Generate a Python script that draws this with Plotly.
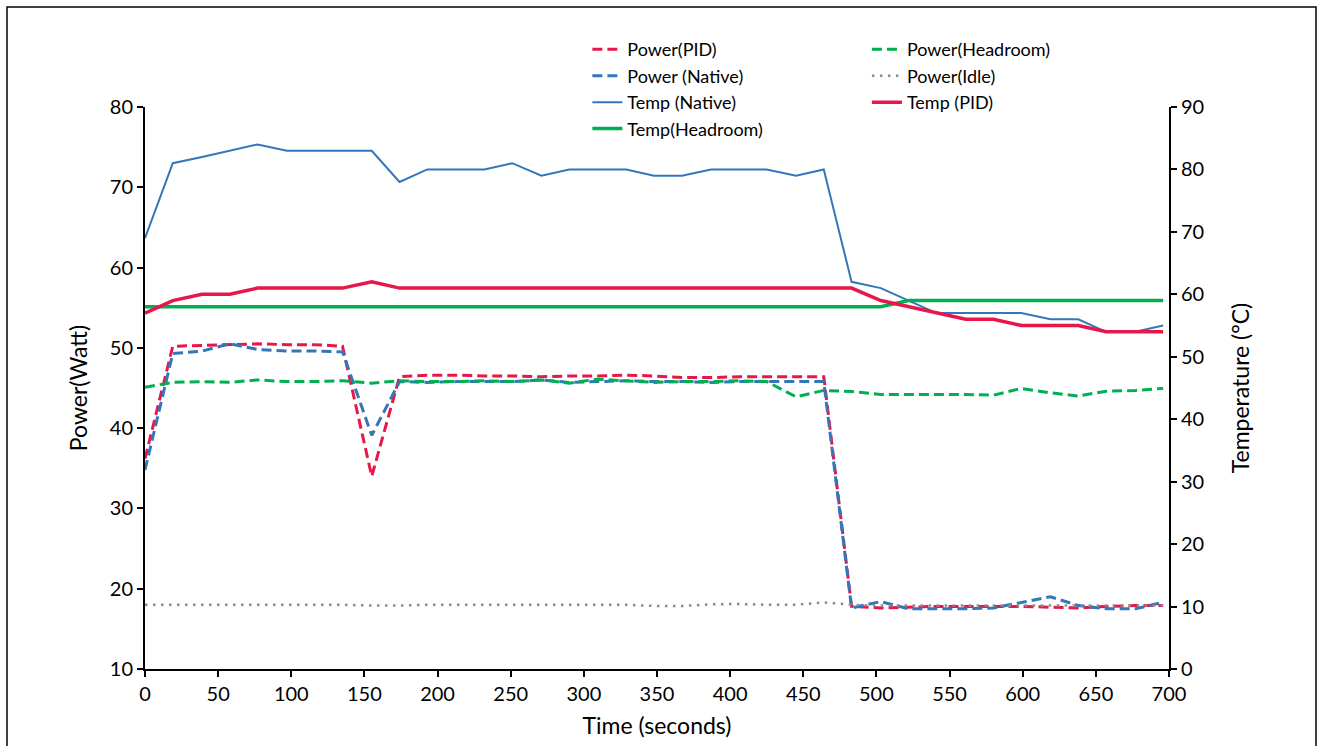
import plotly.graph_objects as go

time_s = [0, 19, 39, 58, 77, 97, 116, 135, 155, 174, 193, 213, 232, 251, 271, 290, 309, 329,
          348, 367, 387, 406, 425, 445, 464, 483, 503, 522, 541, 561, 580, 599, 619, 638, 657, 677, 696]

power_pid = [36.2, 50.2, 50.3, 50.4, 50.5, 50.4, 50.4, 50.2, 34.0,
             46.4, 46.6, 46.6, 46.5, 46.5, 46.4, 46.5, 46.5, 46.6, 46.5, 46.3, 46.3, 46.4, 46.4, 46.4, 46.4,
             17.8, 17.6, 17.7, 17.8, 17.8, 17.8, 17.8, 17.7, 17.6, 17.8, 17.9, 17.9]
power_native = [34.8, 49.3, 49.6, 50.5, 49.8, 49.6, 49.6, 49.5, 39.1,
                45.8, 45.7, 45.8, 45.8, 45.8, 46.0, 45.7, 45.8, 45.9, 45.8, 45.8, 45.7, 45.8, 45.8, 45.8, 45.8,
                17.6, 18.4, 17.5, 17.5, 17.5, 17.6, 18.3, 19.0, 17.9, 17.5, 17.5, 18.3]
power_headroom = [45.1, 45.7, 45.8, 45.7, 46.0, 45.8, 45.8, 45.9, 45.6,
                  45.9, 45.8, 45.8, 45.9, 45.8, 46.0, 45.6, 46.1, 45.9, 45.7, 45.8, 45.8, 45.9, 45.8,
                  43.9, 44.7, 44.55, 44.2, 44.2, 44.2, 44.2, 44.1, 44.95, 44.4, 44.0, 44.6, 44.7, 44.95]
power_idle = [18.0, 18.0, 18.0, 18.0, 18.0, 18.0, 18.0, 18.0, 17.9, 17.9,
              18.0, 18.0, 18.0, 18.0, 18.0, 18.0, 18.0, 18.0, 17.85, 17.85,
              18.05, 18.1, 18.0, 18.0, 18.3, 18.0,
              17.9, 17.9, 17.9, 17.9, 17.9, 17.9, 17.9, 17.9, 17.9, 17.9, 17.9]
temp_native = [69, 81, 82, 83, 84, 83, 83, 83, 83, 78, 80, 80, 80, 81, 79, 80, 80, 80,
               79, 79, 80, 80, 80, 79, 80, 62, 61, 59, 57, 57, 57, 57, 56, 56, 54, 54, 55]
temp_pid = [57, 59, 60, 60, 61, 61, 61, 61, 62, 61, 61, 61, 61, 61, 61, 61, 61, 61,
            61, 61, 61, 61, 61, 61, 61, 61, 59, 58, 57, 56, 56, 55, 55, 55, 54, 54, 54]
temp_headroom = [58] * 27 + [59] * 10

RED = "#E8174A"
BLUE = "#3476BA"
GREEN = "#00B050"
GRAY = "#8C8C8C"
FONT = "Lato"

fig = go.Figure()

fig.add_trace(go.Scatter(x=time_s, y=power_pid, name="Power(PID)", mode="lines",
                         line=dict(color=RED, width=3, dash="10px,5px"), legend="legend"))
fig.add_trace(go.Scatter(x=time_s, y=power_native, name="Power (Native)", mode="lines",
                         line=dict(color=BLUE, width=3, dash="10px,5px"), legend="legend"))
fig.add_trace(go.Scatter(x=time_s, y=temp_native, name="Temp (Native)", mode="lines", yaxis="y2",
                         line=dict(color=BLUE, width=2), legend="legend"))
fig.add_trace(go.Scatter(x=time_s, y=temp_headroom, name="Temp(Headroom)", mode="lines", yaxis="y2",
                         line=dict(color=GREEN, width=3.5), legend="legend"))
fig.add_trace(go.Scatter(x=time_s, y=power_headroom, name="Power(Headroom)", mode="lines",
                         line=dict(color=GREEN, width=3, dash="10px,5px"), legend="legend2"))
fig.add_trace(go.Scatter(x=time_s, y=power_idle, name="Power(Idle)", mode="lines",
                         line=dict(color=GRAY, width=2.5, dash="2.5px,5.5px"), legend="legend2"))
fig.add_trace(go.Scatter(x=time_s, y=temp_pid, name="Temp (PID)", mode="lines", yaxis="y2",
                         line=dict(color=RED, width=3.5), legend="legend2"))

axis_common = dict(showgrid=False, zeroline=False, showline=True, linecolor="black", linewidth=2,
                   ticks="outside", ticklen=6, tickwidth=2, tickcolor="black", automargin=False,
                   tickfont=dict(family=FONT, size=20, color="black"))

legend_common = dict(yanchor="top", xanchor="left", bgcolor="rgba(0,0,0,0)",
                     font=dict(family=FONT, size=18), tracegroupgap=0, itemwidth=30,
                     traceorder="normal")

fig.update_layout(
    width=1321, height=746,
    margin=dict(l=145, r=152, t=107, b=77),
    paper_bgcolor="white", plot_bgcolor="white",
    font=dict(family=FONT, color="black"),
    xaxis=dict(range=[0, 700], dtick=50, tick0=0,
               title=dict(text="Time (seconds)", font=dict(family=FONT, size=23), standoff=14),
               **axis_common),
    yaxis=dict(range=[10, 80], dtick=10, tick0=10,
               title=dict(text="Power(Watt)", font=dict(family=FONT, size=23), standoff=16),
               **axis_common),
    yaxis2=dict(range=[0, 90], dtick=10, tick0=0, overlaying="y", side="right",
                title=dict(text="Temperature (°C)", font=dict(family=FONT, size=23), standoff=30),
                **axis_common),
    legend=dict(x=0.432, y=1.135, **legend_common),
    legend2=dict(x=0.705, y=1.135, **legend_common),
    shapes=[dict(type="rect", xref="paper", yref="paper",
                 x0=(7 - 145) / 1024, x1=(1316 - 145) / 1024,
                 y0=(669 - 760) / 562, y1=(669 - 7) / 562,
                 line=dict(color="black", width=1.5), fillcolor="rgba(0,0,0,0)", layer="below")],
)

fig.write_html("out.html")
